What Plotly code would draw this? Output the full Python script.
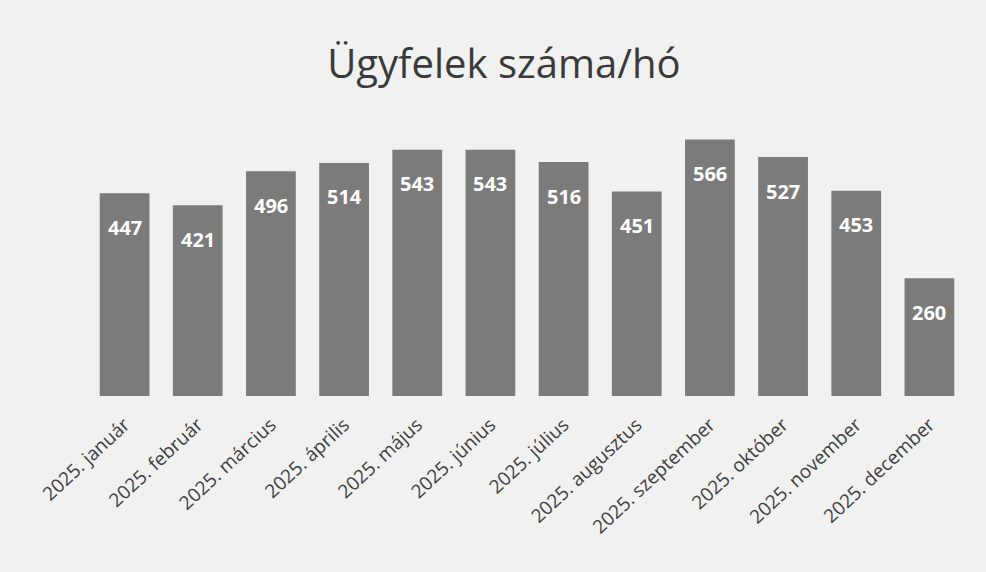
import plotly.graph_objects as go

months = ["2025. január", "2025. február", "2025. március", "2025. április",
          "2025. május", "2025. június", "2025. július", "2025. augusztus",
          "2025. szeptember", "2025. október", "2025. november", "2025. december"]
clients = [447, 421, 496, 514, 543, 543, 516, 451, 566, 527, 453, 260]
title_text = "Ügyfelek száma/hó"

FONT = "Open Sans, Liberation Sans, sans-serif"

fig = go.Figure()
fig.add_trace(go.Bar(
    x=months, y=clients,
    marker=dict(color="#7b7b7b", line=dict(width=0)),
    hoverinfo="x+y",
))

for m, v in zip(months, clients):
    fig.add_annotation(
        x=m, y=v, text=f"<b>{v}</b>", showarrow=False,
        yshift=-34, font=dict(family=FONT, size=20, color="#ffffff"),
    )

fig.update_layout(
    width=986, height=572,
    margin=dict(l=88, r=20, t=124, b=176),
    paper_bgcolor="#f1f1f1",
    plot_bgcolor="#f1f1f1",
    bargap=0.32,
    showlegend=False,
    title=dict(
        text=title_text, x=0.511, xanchor="center", y=0.888, yanchor="middle",
        font=dict(family=FONT, size=40, color="#3a3a3a"),
    ),
    xaxis=dict(
        tickangle=-43, showgrid=False, showline=False, ticks="",
        ticklabelstandoff=13,
        tickfont=dict(family=FONT, size=19, color="#404040"),
    ),
    yaxis=dict(range=[0, 600], visible=False),
)

fig.write_html(
    "out.html",
    config={"displayModeBar": False},
    post_script="document.body.style.margin='0';document.body.style.background='#f1f1f1';",
)
